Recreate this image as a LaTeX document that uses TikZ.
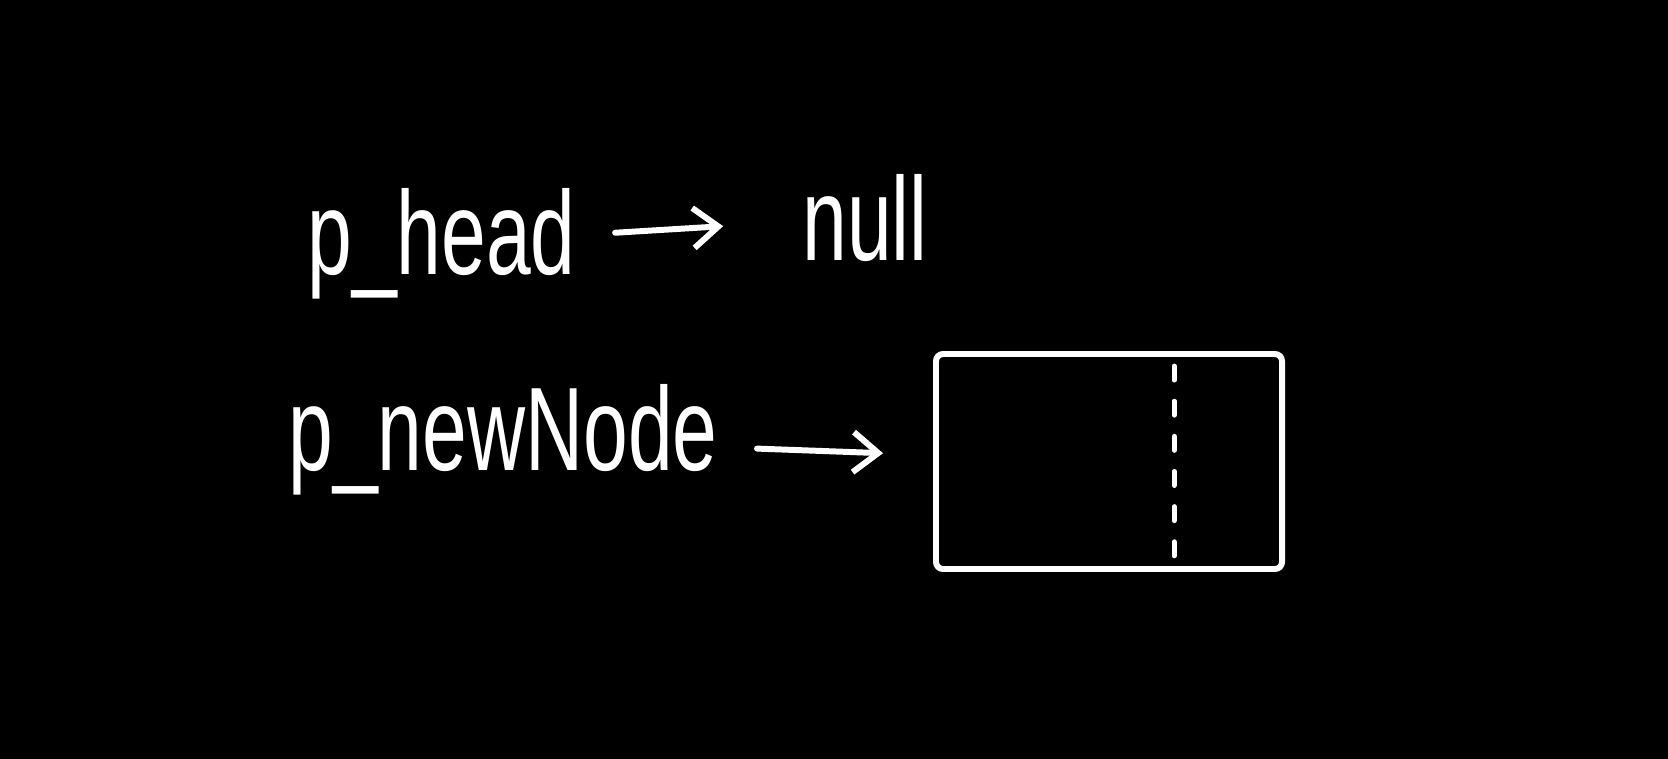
\documentclass[tikz,border=0pt]{standalone}
\usepackage{fontspec}
\setmainfont{Liberation Sans}
\usepackage{tikz}
\usetikzlibrary{arrows.meta, positioning, calc}

\begin{document}
\begin{tikzpicture}[
  lbl/.style={text=white, font=\fontsize{26}{30}\selectfont, inner sep=1mm, xscale=0.88, yscale=1.3, transform shape},
  ptr/.style={-{Straight Barb[length=2.5mm, width=4mm]}, white, line width=1.7pt, line cap=round},
  cell/.style={draw=white, line width=1.7pt, minimum width=3.46cm, minimum height=2.15cm, rounded corners=2pt}
]
  \fill[black] (0,0) rectangle (16.68,-7.59);
  \useasboundingbox (0,0) rectangle (16.68,-7.59);

  \node[lbl, anchor=base west] (head) at (2.98,-2.74) {p\_head};
  \node[lbl, anchor=base west] (null) at (7.93,-2.60) {null};
  \node[lbl, anchor=base west] (newnode) at (2.79,-4.70) {p\_newNode};
  \node[cell] (box) at (11.09,-4.615) {};

  % divider of the cell
  \draw[white, line width=1.4pt, dash pattern=on 4pt off 6pt, line cap=round]
    ($(box.north west)!0.685!(box.north east)$) ++(0,-0.15) coordinate (divtop)
    -- ($(box.south west)!0.685!(box.south east)$) coordinate (divbot);

  \draw[ptr, shorten <=3mm, shorten >=7mm] (head) -- (null);
  \draw[ptr, shorten <=3mm, shorten >=5mm] (newnode) -- (box);
\end{tikzpicture}
\end{document}
